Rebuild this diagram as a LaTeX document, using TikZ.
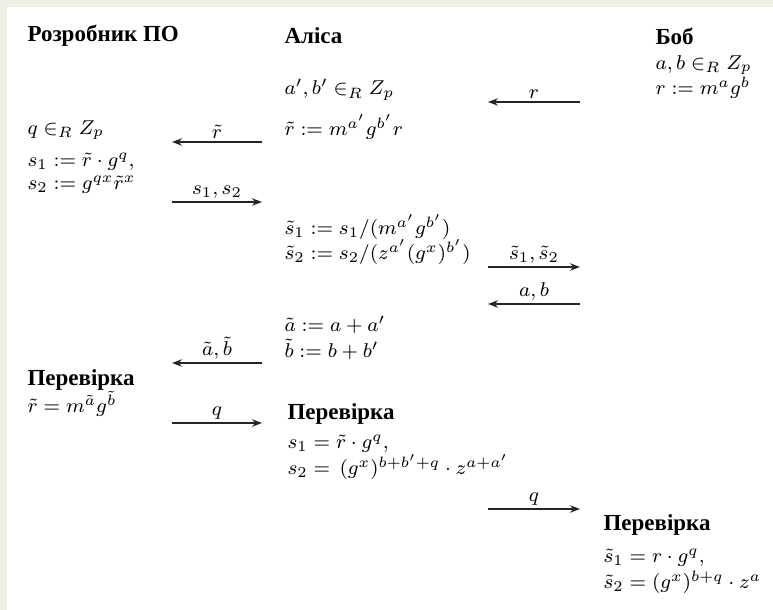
\documentclass[tikz,border=0pt]{standalone}
\usepackage{fontspec}
\newfontfamily\hdfont{Liberation Serif}
\usetikzlibrary{arrows.meta}
\definecolor{frame}{HTML}{EEEFE3}
\newcommand{\mfs}{\fontsize{8.5}{10}\selectfont}
\tikzset{
  txt/.style={anchor=west, inner sep=0pt, font=\mfs},
  head/.style={anchor=west, inner sep=0pt, font=\hdfont\bfseries\fontsize{9.2}{11}\selectfont},
  msg/.style={draw=black!85, line width=0.45pt, -{Stealth[length=4pt,width=3pt]}},
  lbl/.style={above, inner sep=1.2pt, font=\mfs}
}
\begin{document}
\begin{tikzpicture}[x=0.4pt,y=-0.4pt]
\useasboundingbox (0,0) rectangle (773,610);
\fill[white] (0,0) rectangle (773,610);
\fill[frame] (0,0) rectangle (773,7);
\fill[frame] (0,0) rectangle (7,610);
% headings
\node[head] (hdev) at (27,36) {Розробник ПО};
\node[head] (hal) at (284,36) {Аліса};
\node[head] (hbob) at (655,36) {Боб};
% Bob
\node[txt] (b1) at (655,65) {$a,b\in_R Z_p$};
\node[txt] (b2) at (655,88) {$r:=m^a g^b$};
% Alice
\node[txt] (a1) at (284,90) {$a',b'\in_R Z_p$};
\node[txt] (a2) at (284,127) {$\tilde r:=m^{a'}g^{b'}r$};
% developer
\node[txt] (d1) at (27,130) {$q\in_R Z_p$};
\node[txt] (d2) at (27,162) {$s_1:=\tilde r\cdot g^q,$};
\node[txt] (d3) at (27,185) {$s_2:=g^{qx}\tilde r^x$};
% Alice 2
\node[txt] (a3) at (284,227) {$\tilde s_1:=s_1/(m^{a'}g^{b'})$};
\node[txt] (a4) at (284,252) {$\tilde s_2:=s_2/(z^{a'}(g^x)^{b'})$};
\node[txt] (a5) at (284,325) {$\tilde a:=a+a'$};
\node[txt] (a6) at (284,349) {$\tilde b:=b+b'$};
% developer check
\node[head] (dchk) at (27,380) {Перевірка};
\node[txt] (d4) at (27,404) {$\tilde r=m^{\tilde a}g^{\tilde b}$};
% Alice check
\node[head] (achk) at (287,414) {Перевірка};
\node[txt] (a7) at (287,444) {$s_1=\tilde r\cdot g^q,$};
\node[txt] (a8) at (287,467) {$s_2=\,(g^x)^{b+b'+q}\cdot z^{a+a'}$};
% Bob check
\node[head] (bchk) at (603,525) {Перевірка};
\node[txt] (b3) at (603,558) {$\tilde s_1=r\cdot g^q,$};
\node[txt] (b4) at (603,582) {$\tilde s_2=(g^x)^{b+q}\cdot z^a$};
% arrow end points
\coordinate (m1) at (580,102); \coordinate (m1e) at (488,102);
\coordinate (m2) at (262,142); \coordinate (m2e) at (172,142);
\coordinate (m3) at (172,202); \coordinate (m3e) at (262,202);
\coordinate (m4) at (488,267); \coordinate (m4e) at (580,267);
\coordinate (m5) at (580,304); \coordinate (m5e) at (488,304);
\coordinate (m6) at (262,363); \coordinate (m6e) at (172,363);
\coordinate (m7) at (172,423); \coordinate (m7e) at (262,423);
\coordinate (m8) at (488,509); \coordinate (m8e) at (580,509);
\draw[msg] (m1) -- node[lbl] (l1) {$r$} (m1e);
\draw[msg] (m2) -- node[lbl] (l2) {$\tilde r$} (m2e);
\draw[msg] (m3) -- node[lbl] (l3) {$s_1,s_2$} (m3e);
\draw[msg] (m4) -- node[lbl] (l4) {$\tilde s_1,\tilde s_2$} (m4e);
\draw[msg] (m5) -- node[lbl] (l5) {$a,b$} (m5e);
\draw[msg] (m6) -- node[lbl] (l6) {$\tilde a,\tilde b$} (m6e);
\draw[msg] (m7) -- node[lbl] (l7) {$q$} (m7e);
\draw[msg] (m8) -- node[lbl] (l8) {$q$} (m8e);
\end{tikzpicture}
\end{document}
